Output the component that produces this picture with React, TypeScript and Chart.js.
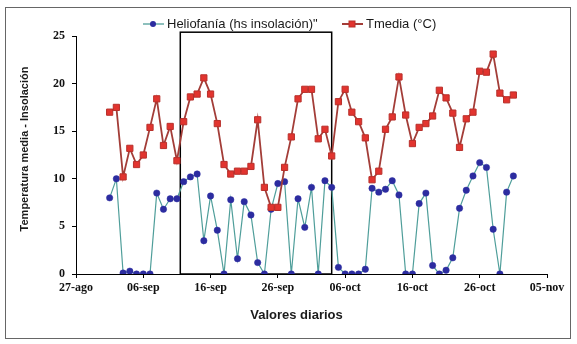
import { useEffect, useRef } from 'react';
import { Chart, registerables } from 'chart.js';

Chart.register(...registerables);

// ---- data ----
const xTickLabels = ['27-ago', '06-sep', '16-sep', '26-sep', '06-oct', '16-oct', '26-oct', '05-nov'];

const dates = [
  '01-sep', '02-sep', '03-sep', '04-sep', '05-sep', '06-sep', '07-sep', '08-sep', '09-sep', '10-sep',
  '11-sep', '12-sep', '13-sep', '14-sep', '15-sep', '16-sep', '17-sep', '18-sep', '19-sep', '20-sep',
  '21-sep', '22-sep', '23-sep', '24-sep', '25-sep', '26-sep', '27-sep', '28-sep', '29-sep', '30-sep',
  '01-oct', '02-oct', '03-oct', '04-oct', '05-oct', '06-oct', '07-oct', '08-oct', '09-oct', '10-oct',
  '11-oct', '12-oct', '13-oct', '14-oct', '15-oct', '16-oct', '17-oct', '18-oct', '19-oct', '20-oct',
  '21-oct', '22-oct', '23-oct', '24-oct', '25-oct', '26-oct', '27-oct', '28-oct', '29-oct', '30-oct',
  '31-oct',
];

const heliofania = [
  8.0, 10.0, 0.1, 0.3, 0, 0, 0, 8.5, 6.8, 7.9,
  7.9, 9.7, 10.2, 10.5, 3.5, 8.2, 4.6, 0, 7.8, 1.6,
  7.6, 6.2, 1.2, 0, 6.8, 9.5, 9.7, 0, 7.9, 4.9,
  9.1, 0, 9.8, 9.1, 0.7, 0, 0, 0, 0.5, 9.0,
  8.6, 8.9, 9.8, 8.3, 0, 0, 7.4, 8.5, 0.9, 0,
  0.4, 1.7, 6.9, 8.8, 10.3, 11.7, 11.2, 4.7, 0, 8.6,
  10.3,
];

const tmedia = [
  17.0, 17.5, 10.2, 13.2, 11.5, 12.5, 15.4, 18.4, 13.5, 15.5,
  11.9, 16.0, 18.6, 18.9, 20.6, 18.9, 15.8, 11.5, 10.5, 10.8,
  10.8, 11.3, 16.2, 9.1, 7.0, 7.0, 11.2, 14.4, 18.4, 19.4,
  19.4, 14.2, 15.2, 12.4, 18.1, 19.4, 17.0, 16.0, 14.3, 9.9,
  10.8, 15.2, 16.5, 20.7, 16.7, 13.7, 15.4, 15.8, 16.6, 19.3,
  18.5, 16.9, 13.3, 16.3, 17.0, 21.3, 21.2, 23.1, 19.0, 18.3,
  18.8,
];

// 01-sep is 5 days after 27-ago (axis origin)
const firstDayOffset = 5;

// highlighted period box (days after 27-ago, value range)
const boxStartDay = 15.5;
const boxEndDay = 38;
const boxTopValue = 25.4;

const helioLabel = 'Heliofanía (hs insolación)"';
const tmediaLabel = 'Tmedia (°C)';
const xTitle = 'Valores diarios';
const yTitle = 'Temperatura media - Insolación';

const HELIO_LINE = '#4f9e9a';
const HELIO_POINT = '#2c2ca0';
const TM_LINE = '#a33d38';
const TM_POINT = '#e2342f';
const TM_POINT_BORDER = '#b8302b';

const toXY = (arr: number[]) => arr.map((v, i) => ({ x: firstDayOffset + i, y: v }));

export default function App() {
  const ref = useRef<HTMLCanvasElement | null>(null);

  useEffect(() => {
    document.body.style.margin = '0';
    const canvas = ref.current;
    if (!canvas) return;

    const boxPlugin = {
      id: 'periodBox',
      beforeDatasetsDraw(chart: any) {
        const { ctx, scales } = chart;
        const x0 = scales.x.getPixelForValue(boxStartDay);
        const x1 = scales.x.getPixelForValue(boxEndDay);
        const y0 = scales.y.getPixelForValue(boxTopValue);
        const y1 = scales.y.getPixelForValue(0);
        ctx.save();
        ctx.strokeStyle = '#000';
        ctx.lineWidth = 1.5;
        ctx.strokeRect(x0, y0, x1 - x0, y1 - y0);
        ctx.restore();
      },
    };

    const textPlugin = {
      id: 'customTexts',
      afterDraw(chart: any) {
        const { ctx, chartArea } = chart;
        ctx.save();
        ctx.fillStyle = '#1a1a1a';
        ctx.textBaseline = 'middle';
        // legend
        const ly = 24;
        const drawItem = (x0: number, label: string, kind: 'circle' | 'rect') => {
          ctx.strokeStyle = kind === 'circle' ? HELIO_LINE : TM_LINE;
          ctx.lineWidth = kind === 'circle' ? 1.3 : 2;
          ctx.beginPath();
          ctx.moveTo(x0, ly);
          ctx.lineTo(x0 + 21, ly);
          ctx.stroke();
          if (kind === 'circle') {
            ctx.fillStyle = HELIO_POINT;
            ctx.beginPath();
            ctx.arc(x0 + 10, ly, 3, 0, Math.PI * 2);
            ctx.fill();
          } else {
            ctx.fillStyle = TM_POINT;
            ctx.strokeStyle = TM_POINT_BORDER;
            ctx.lineWidth = 1;
            ctx.fillRect(x0 + 7, ly - 3, 6, 6);
            ctx.strokeRect(x0 + 7, ly - 3, 6, 6);
          }
          ctx.fillStyle = '#1a1a1a';
          ctx.font = '13px "Liberation Sans", Arial, sans-serif';
          ctx.textAlign = 'left';
          ctx.fillText(label, x0 + 24, ly);
        };
        drawItem(143, helioLabel, 'circle');
        drawItem(342, tmediaLabel, 'rect');

        // x title
        ctx.font = 'bold 13px "Liberation Sans", Arial, sans-serif';
        ctx.textAlign = 'center';
        ctx.fillText(xTitle, (chartArea.left + chartArea.right) / 2 - 15, 315);

        // y title
        ctx.font = 'bold 11px "Liberation Sans", Arial, sans-serif';
        ctx.translate(25, (chartArea.top + chartArea.bottom) / 2 - 6);
        ctx.rotate(-Math.PI / 2);
        ctx.fillText(yTitle, 0, 0);
        ctx.restore();
      },
    };

    const tickFont = { family: '"Liberation Serif", "Times New Roman", serif', size: 12, weight: 'bold' as const };

    const chart = new Chart(canvas, {
      type: 'line',
      data: {
        labels: dates,
        datasets: [
          {
            label: helioLabel,
            data: toXY(heliofania),
            borderColor: HELIO_LINE,
            borderWidth: 1.2,
            backgroundColor: HELIO_POINT,
            pointBackgroundColor: HELIO_POINT,
            pointBorderColor: HELIO_POINT,
            pointRadius: 3.2,
            pointBorderWidth: 0.5,
            pointStyle: 'circle',
            tension: 0,
            order: 2,
          },
          {
            label: tmediaLabel,
            data: toXY(tmedia),
            borderColor: TM_LINE,
            borderWidth: 1.8,
            backgroundColor: TM_POINT,
            pointBackgroundColor: TM_POINT,
            pointBorderColor: TM_POINT_BORDER,
            pointRadius: 4.4,
            pointBorderWidth: 1,
            pointStyle: 'rect',
            tension: 0,
            order: 1,
          },
        ],
      },
      options: {
        responsive: false,
        animation: false,
        events: [],
        layout: { padding: { left: 0, right: 30, top: 36, bottom: 0 } },
        plugins: {
          legend: { display: false },
          tooltip: { enabled: false },
        },
        scales: {
          x: {
            type: 'linear',
            min: 0,
            max: 70,
            grid: { drawOnChartArea: false, drawTicks: true, tickLength: 4, color: '#000' },
            border: { display: true, color: '#000', width: 1 },
            ticks: {
              stepSize: 10,
              autoSkip: false,
              maxRotation: 0,
              color: '#111',
              font: tickFont,
              padding: 3,
              callback: (v: any) => xTickLabels[Math.round(Number(v) / 10)] ?? '',
            },
            afterFit: (s: any) => {
              s.height = 70;
            },
          },
          y: {
            min: 0,
            max: 25,
            grid: { drawOnChartArea: false, drawTicks: true, tickLength: 4, color: '#000' },
            border: { display: true, color: '#000', width: 1 },
            ticks: { stepSize: 5, color: '#111', font: tickFont, padding: 7 },
            afterFit: (s: any) => {
              s.width = 76;
            },
          },
        },
      },
      plugins: [boxPlugin, textPlugin],
    });

    return () => chart.destroy();
  }, []);

  return (
    <div style={{ position: 'relative', width: 577, height: 344, background: '#fff' }}>
      <canvas ref={ref} width={577} height={344} style={{ display: 'block' }} />
      <div
        style={{
          position: 'absolute',
          left: 5,
          top: 7,
          width: 564,
          height: 330,
          border: '1.5px solid #666',
          pointerEvents: 'none',
        }}
      />
    </div>
  );
}
